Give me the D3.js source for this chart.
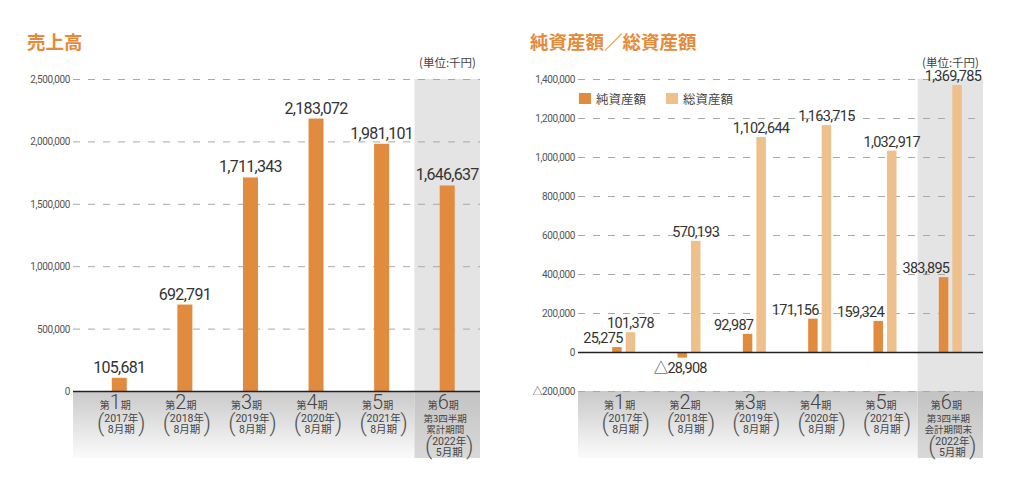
<!DOCTYPE html>
<html>
<head>
<meta charset="utf-8">
<script src="https://cdn.jsdelivr.net/npm/d3@7"></script>
<style>
  body { margin: 0; background: #fff; }
  svg text { font-family: Roboto, "Noto Sans CJK JP", sans-serif; }
  .jp { font-family: "Noto Sans CJK JP", sans-serif; }
</style>
</head>
<body>
<svg id="chart" width="1024" height="484"></svg>
<script>
// data (千円)
var periodNums = ["1", "2", "3", "4", "5", "6"]
var fiscalYears = ["2017年", "2018年", "2019年", "2020年", "2021年", "2022年"]
var fiscalMonths = ["8月期", "8月期", "8月期", "8月期", "8月期", "5月期"]
var salesNote = ["第3四半期", "累計期間"]
var assetsNote = ["第3四半期", "会計期間末"]

var sales = [105681, 692791, 1711343, 2183072, 1981101, 1646637]
var netAssets = [25275, -28908, 92987, 171156, 159324, 383895]
var totalAssets = [101378, 570193, 1102644, 1163715, 1032917, 1369785]

var salesTicks = [0, 500000, 1000000, 1500000, 2000000, 2500000]
var assetTicks = [-200000, 0, 200000, 400000, 600000, 800000, 1000000, 1200000, 1400000]

var orange = "#e08b3d"
var light = "#eec08b"
var titleColor = "#e48a3a"

var svg = d3.select("#chart")
var fmt = d3.format(",")
function yen(v) { return v < 0 ? "△" + fmt(-v) : fmt(v) }

var defs = svg.append("defs")
var g1 = defs.append("linearGradient").attr("id", "under").attr("x1", 0).attr("y1", 0).attr("x2", 0).attr("y2", 1)
g1.append("stop").attr("offset", "0").attr("stop-color", "#c9c9c9")
g1.append("stop").attr("offset", "1").attr("stop-color", "#fbfbfb")
var g2 = defs.append("linearGradient").attr("id", "under6").attr("x1", 0).attr("y1", 0).attr("x2", 0).attr("y2", 1)
g2.append("stop").attr("offset", "0").attr("stop-color", "#c3c3c3")
g2.append("stop").attr("offset", "1").attr("stop-color", "#d9d9d9")

var idx = d3.range(6)

// shared layout for both panels
function panel(opt) {
  var g = svg.append("g")
  var x = d3.scaleBand().domain(idx).range([opt.bandLeft, opt.right]).padding(0)
  var y = d3.scaleLinear().domain(opt.domain).range([391, 79])

  // grey area below the plot
  g.append("rect")
    .attr("x", opt.gridLeft).attr("y", 391)
    .attr("width", x(5) - opt.gridLeft).attr("height", 67)
    .attr("fill", "url(#under)")
  // highlighted latest period
  g.append("rect")
    .attr("x", x(5)).attr("y", 79)
    .attr("width", x.bandwidth()).attr("height", 312)
    .attr("fill", "#e4e4e4")
  g.append("rect")
    .attr("x", x(5)).attr("y", 391)
    .attr("width", x.bandwidth()).attr("height", 67)
    .attr("fill", "url(#under6)")

  // gridlines + tick labels
  g.selectAll(".grid").data(opt.ticks.filter(function(t) { return t != 0 }))
    .join("line")
    .attr("x1", opt.gridLeft).attr("x2", opt.right)
    .attr("y1", function(d) { return y(d) + 0.5 })
    .attr("y2", function(d) { return y(d) + 0.5 })
    .attr("stroke", "#a9a9a9")
    .attr("stroke-dasharray", "7,8")

  g.selectAll(".tick").data(opt.ticks)
    .join("text")
    .attr("x", opt.gridLeft - 3)
    .attr("y", function(d) { return y(d) + 4 })
    .attr("text-anchor", "end")
    .attr("font-size", 10)
    .attr("letter-spacing", -0.4)
    .attr("fill", "#555")
    .text(yen)

  // title + unit
  g.append("text").attr("class", "jp")
    .attr("x", opt.titleX).attr("y", 49)
    .attr("font-size", 18.5).attr("font-weight", 700)
    .attr("fill", titleColor)
    .text(opt.title)
  g.append("text").attr("class", "jp")
    .attr("x", opt.right - 4).attr("y", 67)
    .attr("text-anchor", "end")
    .attr("font-size", 11.5).attr("fill", "#444")
    .text("(単位:千円)")

  // category labels
  var cat = g.selectAll(".cat").data(idx).join("g")
    .attr("transform", function(d) { return "translate(" + (x(d) + x.bandwidth() / 2) + ",0)" })

  var head = cat.append("text").attr("class", "jp")
    .attr("x", -4).attr("y", 409).attr("text-anchor", "middle").attr("fill", "#444")
  head.append("tspan").attr("font-size", 10).text("第")
  head.append("tspan").attr("font-size", 20).attr("font-family", "Roboto").attr("font-weight", 300).text(function(d) { return periodNums[d] })
  head.append("tspan").attr("font-size", 10).text("期")

  cat.each(function(d) {
    var c = d3.select(this)
    var y0 = 422
    if (d == 5) {
      opt.note.forEach(function(s, i) {
        c.append("text").attr("class", "jp").attr("x", -2)
          .attr("y", 422 + i * 11).attr("text-anchor", "middle")
          .attr("font-size", 9.5).attr("fill", "#444").text(s)
      })
      y0 = 445
    }
    c.append("text").attr("x", 2)
      .attr("y", y0).attr("text-anchor", "middle")
      .attr("font-size", 10.5).attr("fill", "#444").text(fiscalYears[d])
    c.append("text").attr("x", 2)
      .attr("y", y0 + 11).attr("text-anchor", "middle")
      .attr("font-size", 10.5).attr("fill", "#444").text(fiscalMonths[d])
    c.append("text").attr("x", -18.5).attr("y", y0 + 9)
      .attr("text-anchor", "middle").attr("font-size", 23).attr("font-weight", 300)
      .attr("fill", "#555").text("(")
    c.append("text").attr("x", 22.5).attr("y", y0 + 9)
      .attr("text-anchor", "middle").attr("font-size", 23).attr("font-weight", 300)
      .attr("fill", "#555").text(")")
  })

  return { g: g, x: x, y: y }
}

// ---- 売上高 ----
var left = panel({
  title: "売上高", titleX: 27,
  gridLeft: 73, bandLeft: 86.5, right: 480,
  domain: [0, 2500000], ticks: salesTicks, note: salesNote
})

left.g.selectAll(".bar").data(idx).join("rect")
  .attr("x", function(d) { return left.x(d) + left.x.bandwidth() / 2 - 7.5 })
  .attr("y", function(d) { return left.y(sales[d]) })
  .attr("width", 15)
  .attr("height", function(d) { return left.y(0) - left.y(sales[d]) })
  .attr("fill", orange)

left.g.selectAll(".val").data(idx).join("text")
  .attr("x", function(d) { return left.x(d) + left.x.bandwidth() / 2 })
  .attr("y", function(d) { return left.y(sales[d]) - 5 })
  .attr("text-anchor", "middle")
  .attr("font-size", 16).attr("letter-spacing", -0.7)
  .attr("fill", "#333")
  .text(function(d) { return yen(sales[d]) })

left.g.append("line")
  .attr("x1", 73).attr("x2", 480)
  .attr("y1", left.y(0) + 0.5).attr("y2", left.y(0) + 0.5)
  .attr("stroke", "#222").attr("stroke-width", 1.3)

// ---- 純資産額／総資産額 ----
var right = panel({
  title: "純資産額／総資産額", titleX: 530,
  gridLeft: 578, bandLeft: 591, right: 983,
  domain: [-200000, 1400000], ticks: assetTicks, note: assetsNote
})

var series = ["net", "total"]
var x1 = d3.scaleBand().domain(series).range([-11.5, 11.5]).paddingInner(0.3)

right.g.selectAll(".pair").data(idx).join("g")
  .attr("transform", function(d) { return "translate(" + (right.x(d) + right.x.bandwidth() / 2) + ",0)" })
  .selectAll("rect")
  .data(function(d) { return [{ k: "net", v: netAssets[d] }, { k: "total", v: totalAssets[d] }] })
  .join("rect")
  .attr("x", function(s) { return x1(s.k) })
  .attr("y", function(s) { return right.y(Math.max(0, s.v)) })
  .attr("width", x1.bandwidth())
  .attr("height", function(s) { return Math.abs(right.y(s.v) - right.y(0)) })
  .attr("fill", function(s) { return s.k == "net" ? orange : light })

// net labels, right aligned on the net bar
right.g.selectAll(".netval").data(idx).join("text")
  .attr("x", function(d) {
    var c = right.x(d) + right.x.bandwidth() / 2
    return netAssets[d] < 0 ? c + x1("net") + x1.bandwidth() / 2 - 2 : c + x1("net") + x1.bandwidth() + 1
  })
  .attr("y", function(d) {
    return netAssets[d] < 0 ? right.y(netAssets[d]) + 15 : right.y(netAssets[d]) - 4
  })
  .attr("text-anchor", function(d) { return netAssets[d] < 0 ? "middle" : "end" })
  .attr("font-size", 14.5).attr("letter-spacing", -0.7)
  .attr("fill", "#333")
  .text(function(d) { return yen(netAssets[d]) })

right.g.selectAll(".totval").data(idx).join("text")
  .attr("x", function(d) {
    var c = right.x(d) + right.x.bandwidth() / 2
    return Math.min(c + x1("total") + x1.bandwidth() / 2, 983 - 30)
  })
  .attr("y", function(d) { return right.y(totalAssets[d]) - 4 })
  .attr("text-anchor", "middle")
  .attr("font-size", 14.5).attr("letter-spacing", -0.7)
  .attr("fill", "#333")
  .text(function(d) { return yen(totalAssets[d]) })

right.g.append("line")
  .attr("x1", 578).attr("x2", 983)
  .attr("y1", right.y(0) + 0.5).attr("y2", right.y(0) + 0.5)
  .attr("stroke", "#222").attr("stroke-width", 1.3)

// legend
var legendItems = [{ name: "純資産額", color: orange, x: 579 }, { name: "総資産額", color: light, x: 666 }]
var lg = right.g.selectAll(".lg").data(legendItems).join("g")
  .attr("transform", function(d) { return "translate(" + d.x + ",93)" })
lg.append("rect").attr("width", 12).attr("height", 11).attr("fill", function(d) { return d.color })
lg.append("text").attr("class", "jp")
  .attr("x", 17).attr("y", 10.5)
  .attr("font-size", 12.5).attr("fill", "#444")
  .text(function(d) { return d.name })
</script>
</body>
</html>
